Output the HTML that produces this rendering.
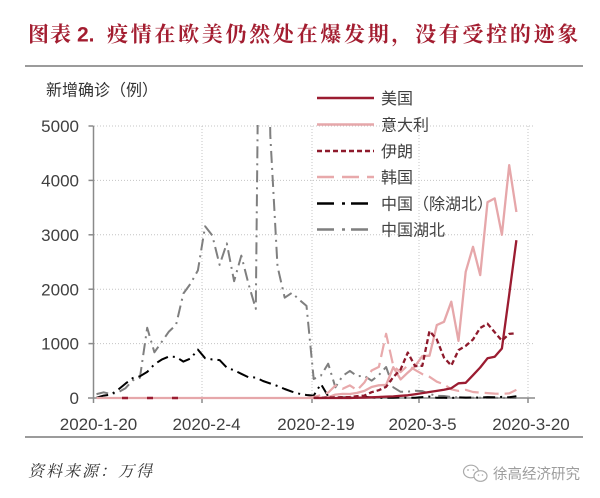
<!DOCTYPE html>
<html>
<head>
<meta charset="utf-8">
<style>
  html,body{margin:0;padding:0;background:#fff;}
  svg{display:block;}
  .cjk{font-family:"Liberation Sans","Noto Sans CJK SC",sans-serif;}
  .num{font-family:"Liberation Sans",sans-serif;}
</style>
</head>
<body>
<svg width="600" height="498" viewBox="0 0 600 498" xmlns="http://www.w3.org/2000/svg">
  <rect x="0" y="0" width="600" height="498" fill="#fff"/>

  <!-- Title -->
  <text x="28" y="41.5" font-family="'Liberation Serif','Noto Serif CJK SC',serif" font-size="21" font-weight="700" fill="#a31d30" letter-spacing="1">图表</text>
  <text x="77" y="41.5" font-family="'Liberation Sans',sans-serif" font-size="21" font-weight="700" fill="#a31d30">2.</text>
  <text x="107" y="41.5" font-family="'Liberation Serif','Noto Serif CJK SC',serif" font-size="21" font-weight="700" fill="#a31d30" letter-spacing="2.7">疫情在欧美仍然处在爆发期，没有受控的迹象</text>

  <!-- rules -->
  <line x1="25" y1="66" x2="583" y2="66" stroke="#7a7a7a" stroke-width="1.5"/>
  <line x1="25" y1="437" x2="583" y2="437" stroke="#7a7a7a" stroke-width="1.5"/>

  <!-- y axis title -->
  <text class="cjk" x="46" y="95.5" font-size="16" fill="#333">新增确诊（例）</text>

  <!-- gridlines -->
  <g stroke="#c4c4c4" stroke-width="1" stroke-dasharray="1 2">
    <line x1="94" y1="126" x2="535" y2="126"/>
    <line x1="94" y1="180.4" x2="535" y2="180.4"/>
    <line x1="94" y1="234.8" x2="535" y2="234.8"/>
    <line x1="94" y1="289.2" x2="535" y2="289.2"/>
    <line x1="94" y1="343.6" x2="535" y2="343.6"/>
    <line x1="202" y1="126" x2="202" y2="397"/>
    <line x1="312" y1="126" x2="312" y2="397"/>
    <line x1="419" y1="126" x2="419" y2="397"/>
    <line x1="528" y1="126" x2="528" y2="397"/>
  </g>

  <!-- axes -->
  <g stroke="#8a8a8a" stroke-width="1.5">
    <line x1="93.5" y1="126" x2="93.5" y2="403"/>
    <line x1="88" y1="398" x2="535" y2="398"/>
    <line x1="88.5" y1="126" x2="93.5" y2="126"/>
    <line x1="88.5" y1="180.4" x2="93.5" y2="180.4"/>
    <line x1="88.5" y1="234.8" x2="93.5" y2="234.8"/>
    <line x1="88.5" y1="289.2" x2="93.5" y2="289.2"/>
    <line x1="88.5" y1="343.6" x2="93.5" y2="343.6"/>
    <line x1="202" y1="398" x2="202" y2="403"/>
    <line x1="312" y1="398" x2="312" y2="403"/>
    <line x1="419" y1="398" x2="419" y2="403"/>
    <line x1="528" y1="398" x2="528" y2="403"/>
  </g>

  <!-- y labels -->
  <g class="num" font-size="17" fill="#404040" text-anchor="end">
    <text x="79" y="132.1">5000</text>
    <text x="79" y="186.5">4000</text>
    <text x="79" y="240.9">3000</text>
    <text x="79" y="295.3">2000</text>
    <text x="79" y="349.7">1000</text>
    <text x="79" y="404.1">0</text>
  </g>

  <!-- x labels -->
  <g class="num" font-size="17" fill="#404040" text-anchor="middle">
    <text x="98.5" y="430">2020-1-20</text>
    <text x="206.5" y="430">2020-2-4</text>
    <text x="316" y="430">2020-2-19</text>
    <text x="422.5" y="430">2020-3-5</text>
    <text x="531" y="430">2020-3-20</text>
  </g>

  <defs>
    <clipPath id="plot">
      <rect x="94" y="125" width="445" height="282"/>
    </clipPath>
  </defs>

  <g clip-path="url(#plot)" fill="none" stroke-linejoin="round">
    <!-- Hubei (gray dash-dot) -->
    <polyline stroke="#7f7f7f" stroke-width="2" stroke-dasharray="12 5 2 5" points="96.5,394.1 103.7,392.3 111,394.2 118.2,392.3 125.5,388.2 132.7,380.4 139.9,377.8 147.2,327.8 154.4,352.3 161.7,341.9 168.9,331.6 176.1,324.7 183.4,293.5 190.6,283.6 197.9,270.4 205.1,226.3 212.3,235.5 219.6,264.9 226.8,243.4 234.1,281.2 241.3,255.6 248.5,283.9 255.8,308.9 263,-409.3 270.3,135.6 277.5,266.4 284.7,297.7 292,292.8 299.2,299.7 306.5,305.9 313.7,379 320.9,375.6 328.2,363.7 335.4,387.3 342.7,375.8 349.9,370.9 357.1,376.2 364.4,375.8 371.6,380.7 378.9,375 386.1,367 393.3,387.3 400.6,391.8 407.8,391.7 415.1,390.7 422.3,391.1 429.5,394 436.8,395.8 444,396 451.3,397.1 458.5,397.3 465.7,397.6 473,397.7 480.2,397.8 487.5,397.8 494.7,397.8 501.9,397.9 509.2,397.9 516.4,398"/>
    <!-- China ex-Hubei (black dash-dot) -->
    <polyline stroke="#000" stroke-width="2" stroke-dasharray="12 5 2 5" points="96.5,397.7 103.7,395.6 111,394.6 118.2,389.6 125.5,383.6 132.7,378.1 139.9,376.3 147.2,371.9 154.4,364.3 161.7,359.6 168.9,356.5 176.1,356.9 183.4,361.6 190.6,358.5 197.9,349.6 205.1,358.2 212.3,359.5 219.6,360.1 226.8,367.6 234.1,370.3 241.3,373.8 248.5,377.3 255.8,377.5 263,381 270.3,383.5 277.5,386 284.7,389 292,391.7 299.2,393.7 306.5,395 313.7,395.6 320.9,384 328.2,396.3 335.4,397 342.7,397.4 349.9,397.5 357.1,397.7 364.4,396.7 371.6,397.5 378.9,397.8 386.1,397.8 393.3,397.7 400.6,397.4 407.8,397.8 415.1,397.7 422.3,397.1 429.5,396.6 436.8,397.8 444,397.8 451.3,397.9 458.5,397.4 465.7,397.6 473,397.5 480.2,397.6 487.5,397.1 494.7,397.3 501.9,396.9 509.2,397.3 516.4,396.2"/>
    <!-- Korea (pink long dash) -->
    <polyline stroke="#e8a9ab" stroke-width="2.2" stroke-dasharray="14 6" points="306.5,398 313.7,396.9 320.9,395.1 328.2,392.6 335.4,385.5 342.7,388.8 349.9,385.4 357.1,390.2 364.4,382.5 371.6,370.5 378.9,366.9 386.1,333.8 393.3,366.1 400.6,372.1 407.8,365.4 415.1,369.9 422.3,374.1 429.5,376.8 436.8,381.7 444,384.4 451.3,389.3 458.5,390.9 465.7,389.8 473,392 480.2,392.6 487.5,393.1 494.7,393.6 501.9,393.9 509.2,393.4 516.4,389.8"/>
    <!-- Italy (pink solid) -->
    <polyline stroke="#e6a7aa" stroke-width="2.3" points="96.5,398 320.9,398 328.2,397.2 335.4,394.6 342.7,393.9 349.9,394 357.1,392.9 364.4,390.9 371.6,387 378.9,385.3 386.1,384.9 393.3,367.2 400.6,379.4 407.8,372.6 415.1,366.1 422.3,356.2 429.5,355.7 436.8,325.1 444,321.8 451.3,301.7 458.5,340.9 465.7,271.8 473,246.8 480.2,275.1 487.5,202.2 494.7,198.4 501.9,234.8 509.2,165.2 516.4,212"/>
    <!-- US (dark red solid) -->
    <polyline stroke="#9b1c31" stroke-width="2.3" points="313.7,398 349.9,398 357.1,397.7 364.4,397.6 371.6,397.3 378.9,397 386.1,396.6 393.3,396.4 400.6,395.8 407.8,395.3 415.1,394.2 422.3,393.1 429.5,392 436.8,390.9 444,389.8 451.3,388.2 458.5,383.3 465.7,382.8 473,375.2 480.2,367.5 487.5,358.3 494.7,356.7 501.9,348.5 509.2,294.6 516.4,240.2"/>
    <!-- Iran (dark red short dash) -->
    <polyline stroke="#8e1a2c" stroke-width="2.3" stroke-dasharray="5 3" points="313.7,397.9 320.9,397.8 328.2,397.3 335.4,397.5 342.7,397.2 349.9,397 357.1,396.2 364.4,395.6 371.6,392.2 378.9,390.2 386.1,386.8 393.3,377.1 400.6,369.5 407.8,352.6 415.1,366.1 422.3,365.8 429.5,330.9 436.8,339.5 444,357.6 451.3,365.6 458.5,350.1 465.7,345.9 473,339.5 480.2,327.9 487.5,323.7 494.7,332.2 501.9,340.7 509.2,333.9 516.4,333.2"/>
    <!-- baseline dark red dashes -->
    <g stroke="#9b1c31" stroke-width="2.5">
      <line x1="122" y1="398" x2="128" y2="398"/>
      <line x1="147" y1="398" x2="153" y2="398"/>
      <line x1="172" y1="398" x2="178" y2="398"/>
    </g>
  </g>

  <!-- Legend -->
  <g fill="none" stroke-width="2.5">
    <line x1="317" y1="98" x2="374" y2="98" stroke="#9b1c31"/>
    <line x1="317" y1="124.5" x2="374" y2="124.5" stroke="#e6a7aa"/>
    <line x1="317" y1="151" x2="374" y2="151" stroke="#8e1a2c" stroke-dasharray="5 3"/>
    <line x1="317" y1="177" x2="374" y2="177" stroke="#e8a9ab" stroke-dasharray="17 8"/>
    <g stroke="#000">
      <line x1="317" y1="203.5" x2="334" y2="203.5"/>
      <line x1="342" y1="203.5" x2="345" y2="203.5"/>
      <line x1="351" y1="203.5" x2="368" y2="203.5"/>
    </g>
    <g stroke="#7f7f7f">
      <line x1="317" y1="229.5" x2="334" y2="229.5"/>
      <line x1="342" y1="229.5" x2="345" y2="229.5"/>
      <line x1="351" y1="229.5" x2="368" y2="229.5"/>
    </g>
  </g>
  <g class="cjk" font-size="16" fill="#404040">
    <text x="381" y="104">美国</text>
    <text x="381" y="130.5">意大利</text>
    <text x="381" y="157">伊朗</text>
    <text x="381" y="183">韩国</text>
    <text x="381" y="209.5">中国（除湖北）</text>
    <text x="381" y="235.5">中国湖北</text>
  </g>

  <!-- Source -->
  <text x="28" y="476.5" font-family="'Liberation Serif','Noto Serif CJK SC',serif" font-size="16" font-style="italic" fill="#333" letter-spacing="2">资料来源：万得</text>

  <!-- Watermark -->
  <g fill="#fff" stroke="#ababab" stroke-width="1.2">
    <ellipse cx="471" cy="471.5" rx="7.5" ry="6.3"/>
    <ellipse cx="480.5" cy="476" rx="6.5" ry="5.3"/>
  </g>
  <g fill="#ababab">
    <circle cx="468" cy="470" r="0.9"/>
    <circle cx="473.5" cy="470" r="0.9"/>
    <circle cx="478.5" cy="475" r="0.8"/>
    <circle cx="482.5" cy="475" r="0.8"/>
  </g>
  <text class="cjk" x="493" y="479" font-size="14.5" fill="#9d9d9d">徐高经济研究</text>
</svg>
</body>
</html>
